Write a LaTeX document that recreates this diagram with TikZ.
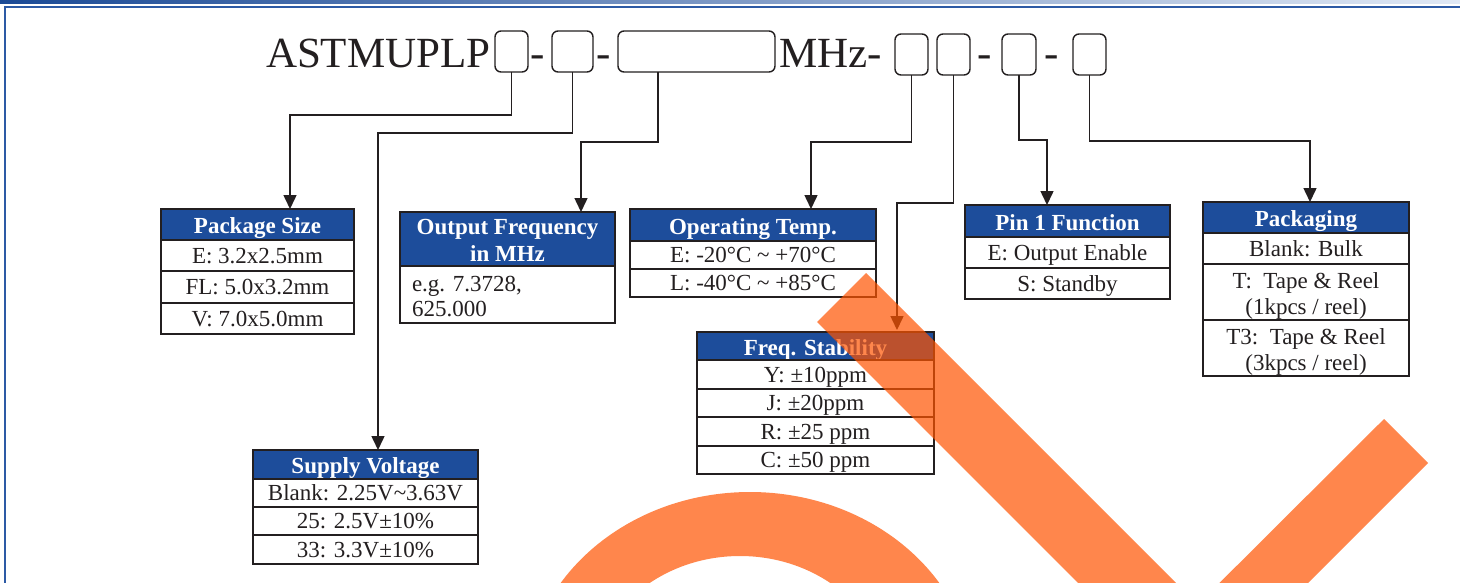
\documentclass[tikz,border=0pt]{standalone}
\usepackage{fontspec}
\setmainfont{Liberation Serif}
\usetikzlibrary{arrows.meta,calc}
\definecolor{hdrblue}{RGB}{29,77,155}
\definecolor{ink}{RGB}{35,31,32}
\definecolor{framecol}{RGB}{45,90,165}
\definecolor{framedark}{RGB}{27,74,150}
\definecolor{framelight}{RGB}{225,233,245}
\definecolor{wm}{RGB}{255,84,0}
\begin{document}
\begin{tikzpicture}[x=1pt,y=-1pt,
  every node/.style={outer sep=0pt},
  bodyfont/.style={font=\fontsize{23}{26}\selectfont},
  hdr/.style={draw=ink, fill=hdrblue, line width=2.4pt, text=white,
    font=\fontsize{23}{26}\selectfont\bfseries, anchor=north west,
    inner sep=0pt, text height=18pt, text depth=0pt},
  cell/.style={draw=ink, line width=2.4pt, text=ink, bodyfont,
    anchor=north west, inner sep=0pt, text height=15.2pt, text depth=0pt},
  htext/.style={text=white, font=\fontsize{23}{26}\selectfont\bfseries, inner sep=0pt, anchor=base},
  btext/.style={text=ink, bodyfont, inner sep=0pt, anchor=base},
  pbox/.style={draw=ink, line width=1.4pt, rounded corners=6pt, anchor=north west, inner sep=0pt},
  titlefont/.style={text=ink, font=\fontsize{43}{48}\selectfont, inner sep=0pt},
  arr/.style={draw=ink, line width=1.5pt, -{Triangle[width=13pt,length=14pt]}}
]
\useasboundingbox (0,0) rectangle (1460,582);
\fill[white] (0,0) rectangle (1460,582);
% frame
\shade[left color=framedark, right color=framelight] (0,0) rectangle (1460,3);
\draw[framecol, line width=2pt] (5,590) -- (5,7) -- (1470,7);

% title
\node[titlefont, anchor=base west] (t0) at (266,67) {ASTMUPLP};
\node[pbox, minimum width=33, minimum height=41] (b1) at (495,31) {};
\node[titlefont, anchor=base] (d1) at (537.5,67) {-};
\node[pbox, minimum width=41, minimum height=41] (b2) at (552,31) {};
\node[titlefont, anchor=base] (d2) at (603.5,67) {-};
\node[pbox, minimum width=157, minimum height=41] (b3) at (618,31) {};
\node[titlefont, anchor=base west] (t1) at (779,67) {MHz-};
\node[pbox, minimum width=33, minimum height=41] (b4) at (895,34) {};
\node[pbox, minimum width=33, minimum height=41] (b5) at (937,34) {};
\node[titlefont, anchor=base] (d3) at (984.5,67) {-};
\node[pbox, minimum width=34, minimum height=41] (b6) at (1002,34) {};
\node[titlefont, anchor=base] (d4) at (1051.5,67) {-};
\node[pbox, minimum width=33, minimum height=41] (b7) at (1073,34) {};

% Package Size
\node[hdr, minimum width=193, minimum height=31] (psh) at (161,209) {Package Size};
\node[cell, minimum width=193, minimum height=31] (ps1) at (161,240) {E: 3.2x2.5mm};
\node[cell, minimum width=193, minimum height=32] (ps2) at (161,271) {FL: 5.0x3.2mm};
\node[cell, minimum width=193, minimum height=31] (ps3) at (161,303) {V: 7.0x5.0mm};

% Output Frequency
\node[hdr, minimum width=215, minimum height=54] (ofh) at (400,212) {};
\node[htext] (ofh1) at (507.5,234) {Output Frequency};
\node[htext] (ofh2) at (507.5,261) {in MHz};
\node[cell, minimum width=215, minimum height=57] (of1) at (400,266) {};
\node[btext, anchor=base west] (of1a) at (412,291) {e.g. 7.3728,};
\node[btext, anchor=base west] (of1b) at (412,316) {625.000};

% Operating Temp
\node[hdr, minimum width=246, minimum height=32] (oth) at (630,209) {Operating Temp.};
\node[cell, minimum width=246, minimum height=28] (ot1) at (630,241) {E: -20°C \textasciitilde\ +70°C};
\node[cell, minimum width=246, minimum height=28] (ot2) at (630,269) {L: -40°C \textasciitilde\ +85°C};

% Pin 1 Function
\node[hdr, minimum width=205, minimum height=32] (p1h) at (965,205) {Pin 1 Function};
\node[cell, minimum width=205, minimum height=31] (p11) at (965,237) {E: Output Enable};
\node[cell, minimum width=205, minimum height=31] (p12) at (965,268) {S: Standby};

% Packaging
\node[hdr, minimum width=206, minimum height=31] (pkh) at (1203,202) {Packaging};
\node[cell, minimum width=206, minimum height=31] (pk1) at (1203,233) {Blank: Bulk};
\node[cell, minimum width=206, minimum height=56] (pk2) at (1203,264) {};
\node[btext] (pk2a) at (1306,288) {T:\ \ Tape \& Reel};
\node[btext] (pk2b) at (1306,314) {(1kpcs / reel)};
\node[cell, minimum width=206, minimum height=56] (pk3) at (1203,320) {};
\node[btext] (pk3a) at (1306,344) {T3:\ \ Tape \& Reel};
\node[btext] (pk3b) at (1306,370) {(3kpcs / reel)};

% Freq. Stability
\node[hdr, minimum width=237, minimum height=28] (fsh) at (697,332) {Freq. Stability};
\node[cell, minimum width=237, minimum height=29] (fs1) at (697,360) {Y: ±10ppm};
\node[cell, minimum width=237, minimum height=28] (fs2) at (697,389) {J: ±20ppm};
\node[cell, minimum width=237, minimum height=29] (fs3) at (697,417) {R: ±25 ppm};
\node[cell, minimum width=237, minimum height=28] (fs4) at (697,446) {C: ±50 ppm};

% Supply Voltage
\node[hdr, minimum width=225, minimum height=29] (svh) at (253,450) {Supply Voltage};
\node[cell, minimum width=225, minimum height=28] (sv1) at (253,479) {Blank: 2.25V\textasciitilde 3.63V};
\node[cell, minimum width=225, minimum height=28] (sv2) at (253,507) {25: 2.5V±10\%};
\node[cell, minimum width=225, minimum height=29] (sv3) at (253,535) {33: 3.3V±10\%};

% arrow targets
\coordinate (a1) at ($(psh.north west)+(129,0)$);
\coordinate (a2) at ($(svh.north west)+(125,0)$);
\coordinate (a3) at ($(ofh.north west)+(181,0)$);
\coordinate (a4) at ($(oth.north west)+(181,0)$);
\coordinate (a5) at ($(fsh.north west)+(200,-2)$);
\coordinate (a6) at ($(p1h.north west)+(82,0)$);
\coordinate (a7) at ($(pkh.north west)+(107,0)$);
\coordinate (s3) at ($(b3.south west)+(40,0)$);

\draw[arr] (b1.south) -- ++(0,43) -| (a1);
\draw[arr] (b2.south) -- ++(0,61) -| (a2);
\draw[arr] (s3) -- ++(0,70) -| (a3);
\draw[arr] (b4.south) -- ++(0,67) -| (a4);
\draw[arr] (b5.south) -- ++(0,128) -| (a5);
\draw[arr] (b6.south) -- ++(0,65) -| (a6);
\draw[arr] (b7.south) -- ++(0,66) -| (a7);

% watermark
\begin{scope}
\clip (0,0) rectangle (1460,582);
\fill[wm, opacity=0.7] (817,322) -- (866,273) -- (1293,700) -- (1195,700) -- cycle;
\fill[wm, opacity=0.7] (1384,419) -- (1428,463) -- (1191,700) -- (1102,700) -- cycle;
\fill[wm, opacity=0.7, even odd rule] (750,690) ellipse [x radius=225, y radius=198]
  (740,690) ellipse [x radius=150, y radius=134];
\end{scope}
\end{tikzpicture}
\end{document}
